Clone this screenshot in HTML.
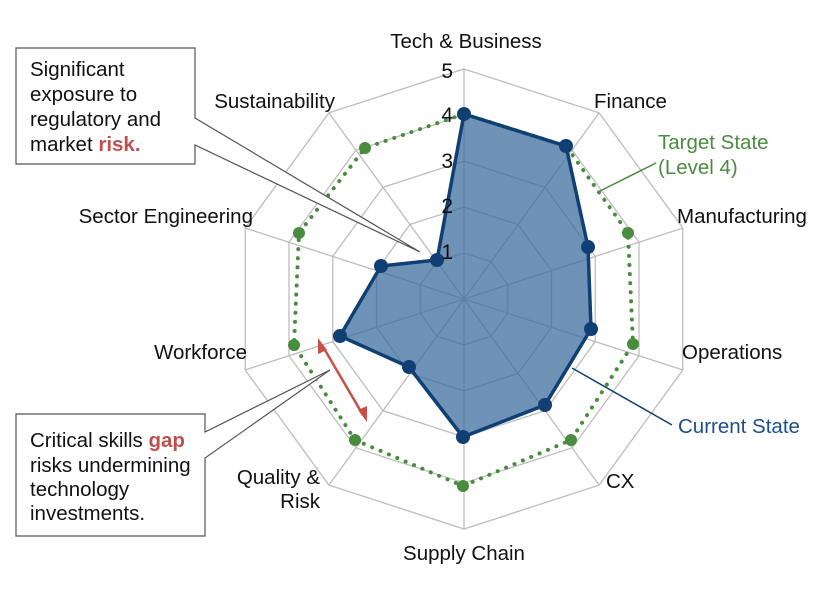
<!DOCTYPE html>
<html><head><meta charset="utf-8"><style>
html,body{margin:0;padding:0;background:#fff;}
svg{display:block;font-family:"Liberation Sans",sans-serif;}
</style></head><body>
<svg width="839" height="590" viewBox="0 0 839 590" xmlns="http://www.w3.org/2000/svg">
<defs>
<polygon id="dec" points="0,-1 0.5878,-0.809 0.9511,-0.309 0.9511,0.309 0.5878,0.809 0,1 -0.5878,0.809 -0.9511,0.309 -0.9511,-0.309 -0.5878,-0.809"/>
</defs>
<g fill="none" stroke="#bdbdbd" stroke-width="1.3">
<use href="#dec" transform="translate(464,299) scale(46)" style="stroke-width:0.028"/>
<use href="#dec" transform="translate(464,299) scale(92)" style="stroke-width:0.014"/>
<use href="#dec" transform="translate(464,299) scale(138)" style="stroke-width:0.0094"/>
<use href="#dec" transform="translate(464,299) scale(184)" style="stroke-width:0.007"/>
<use href="#dec" transform="translate(464,299) scale(230)" style="stroke-width:0.0057"/>
<path d="M464,299L464,69M464,299L599,113M464,299L683,228M464,299L683,370M464,299L599,485M464,299L464,529M464,299L329,485M464,299L245,370M464,299L245,228M464,299L329,113"/>
</g>
<polygon points="464,114 566,146 628,233 633,344 571,440 463,486 355,440 294,345 299,233 365,148" fill="none" stroke="#4a8c3f" stroke-width="4" stroke-dasharray="0.1 9" stroke-linecap="round"/>
<g fill="#4a8c3f">
<circle cx="628" cy="233" r="6"/><circle cx="633" cy="344" r="6"/><circle cx="571" cy="440" r="6"/><circle cx="463" cy="486" r="6"/><circle cx="355" cy="440" r="6"/><circle cx="294" cy="345" r="6"/><circle cx="299" cy="233" r="6"/><circle cx="365" cy="148" r="6"/>
</g>
<polygon points="464,114 566,146 588,247 591,329 545,405 463,437 409,367 340,336 381,266 437,260" fill="#3f6f9e" fill-opacity="0.75" stroke="#0f3f73" stroke-width="3.5" stroke-linejoin="round"/>
<g fill="#0f3f73">
<circle cx="464" cy="114" r="7"/><circle cx="566" cy="146" r="7"/><circle cx="588" cy="247" r="7"/><circle cx="591" cy="329" r="7"/><circle cx="545" cy="405" r="7"/><circle cx="463" cy="437" r="7"/><circle cx="409" cy="367" r="7"/><circle cx="340" cy="336" r="7"/><circle cx="381" cy="266" r="7"/><circle cx="437" cy="260" r="7"/>
</g>
<g font-size="21" fill="#111" text-anchor="end">
<text x="453" y="78">5</text><text x="453" y="122">4</text><text x="453" y="168">3</text><text x="453" y="213">2</text><text x="453" y="259">1</text>
</g>
<g font-size="20.5" fill="#111">
<text x="466" y="48" text-anchor="middle">Tech &amp; Business</text>
<text x="594" y="108">Finance</text>
<text x="677" y="223">Manufacturing</text>
<text x="682" y="359">Operations</text>
<text x="606" y="488">CX</text>
<text x="464" y="560" text-anchor="middle">Supply Chain</text>
<text x="320" y="484" text-anchor="end">Quality &amp;</text>
<text x="320" y="508" text-anchor="end">Risk</text>
<text x="247" y="359" text-anchor="end">Workforce</text>
<text x="253" y="223" text-anchor="end">Sector Engineering</text>
<text x="335" y="108" text-anchor="end">Sustainability</text>
</g>
<line x1="656" y1="163" x2="598" y2="192" stroke="#4a8c3f" stroke-width="1.5"/>
<text x="658" y="149" font-size="20.5" fill="#4a8c3f">Target State</text>
<text x="658" y="174" font-size="20.5" fill="#4a8c3f">(Level 4)</text>
<line x1="672" y1="425" x2="572" y2="368" stroke="#0f3f73" stroke-width="1.5"/>
<text x="678" y="433" font-size="20.5" fill="#1b4f8a">Current State</text>
<polygon points="16,48 195,48 195,118 420,252 195,145 195,164 16,164" fill="#fff" stroke="#555" stroke-width="1.2"/>
<g font-size="20.5" fill="#111">
<text x="30" y="76">Significant</text>
<text x="30" y="101">exposure to</text>
<text x="30" y="126">regulatory and</text>
<text x="30" y="151">market <tspan fill="#c0504d" font-weight="bold">risk.</tspan></text>
</g>
<polygon points="16,414 205,414 205,432 330,370 205,458 205,536 16,536" fill="#fff" stroke="#555" stroke-width="1.2"/>
<g font-size="20.5" fill="#111">
<text x="30" y="447">Critical skills <tspan fill="#c0504d" font-weight="bold">gap</tspan></text>
<text x="30" y="472">risks undermining</text>
<text x="30" y="496">technology</text>
<text x="30" y="520">investments.</text>
</g>
<line x1="322" y1="345" x2="363" y2="415" stroke="#c8504a" stroke-width="2.5"/>
<polygon points="318,338 327,350 318,354" fill="#c8504a"/>
<polygon points="367,422 358,410 367,406" fill="#c8504a"/>
</svg>
</body></html>
